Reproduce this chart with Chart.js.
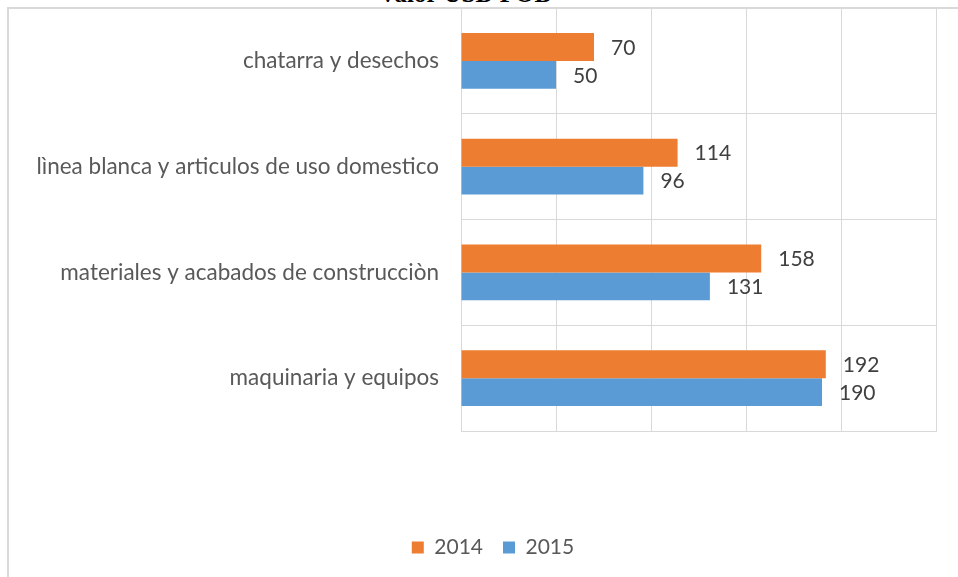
<!DOCTYPE html>
<html>
<head>
<meta charset="utf-8">
<script src="https://cdn.jsdelivr.net/npm/chart.js@4"></script>
<style>
  html, body { margin: 0; padding: 0; background: #fff; overflow: hidden; }
  #wrap { position: relative; width: 958px; height: 577px; }
  #title { position: absolute; left: 0; width: 930px; top: -20px; text-align: center;
           font: bold 25px "Liberation Serif", serif; color: #000; }
  #frame { position: absolute; left: 7px; top: 7px; width: 960px; height: 580px;
           border-top: 2px solid #d9d9d9; border-left: 2px solid #d9d9d9; }
  canvas { position: absolute; left: 0; top: 0; }
</style>
</head>
<body>
<div id="wrap">
  <div id="title">Valor USD FOB</div>
  <div id="frame"></div>
  <canvas id="chart" width="958" height="577"></canvas>
</div>
<script>
    // data
    var categories = [
        'chatarra y desechos',
        'lìnea blanca y articulos de uso domestico',
        'materiales y acabados de construcciòn',
        'maquinaria y equipos'
    ];
    var values2014 = [70, 114, 158, 192];
    var values2015 = [50, 96, 131, 190];
    var seriesNames = ['2014', '2015'];
    var xTicks = [0, 50, 100, 150, 200, 250];

    var labelFont = { family: 'Lato', size: 22.5 };

    // draws the value next to the end of every bar
    var valueLabels = {
        id: 'valueLabels',
        afterDatasetsDraw: function (chart) {
            var ctx = chart.ctx;
            ctx.save();
            ctx.font = '21px Lato';
            ctx.fillStyle = '#404040';
            ctx.textAlign = 'left';
            ctx.textBaseline = 'middle';
            chart.data.datasets.forEach(function (ds, i) {
                chart.getDatasetMeta(i).data.forEach(function (bar, j) {
                    ctx.fillText(ds.data[j], bar.x + 17, bar.y + 1);
                });
            });
            ctx.restore();
        }
    };

    // the legend in the reference sits a bit right of the canvas centre
    var legendShift = {
        id: 'legendShift',
        afterLayout: function (chart) {
            chart.legend.left += 25;
            chart.legend.right += 25;
        }
    };

    var ctx = document.getElementById('chart').getContext('2d');
    new Chart(ctx, {
        type: 'bar',
        data: {
            labels: categories,
            datasets: [{
                label: seriesNames[0],
                data: values2014,
                backgroundColor: '#ED7D31',
                categoryPercentage: 0.528,
                barPercentage: 1
            }, {
                label: seriesNames[1],
                data: values2015,
                backgroundColor: '#5B9BD5',
                categoryPercentage: 0.528,
                barPercentage: 1
            }]
        },
        options: {
            indexAxis: 'y',
            responsive: false,
            animation: false,
            layout: { padding: { left: 0, right: 22, top: 8, bottom: 9 } },
            scales: {
                x: {
                    min: xTicks[0],
                    max: xTicks[xTicks.length - 1],
                    afterBuildTicks: function (scale) {
                        scale.ticks = xTicks.map(function (v) { return { value: v }; });
                    },
                    ticks: { display: false },
                    grid: { color: '#d9d9d9', drawTicks: false },
                    border: { color: '#d9d9d9' },
                    afterFit: function (scale) { scale.height = 86; }
                },
                y: {
                    ticks: { color: '#595959', font: labelFont, padding: 22 },
                    grid: { color: '#d9d9d9', drawTicks: false },
                    border: { color: '#d9d9d9' },
                    afterFit: function (scale) {
                        scale.width = 461;
                        scale.paddingTop = 0;
                        scale.paddingBottom = 0;
                    }
                }
            },
            plugins: {
                legend: {
                    position: 'bottom',
                    labels: {
                        color: '#595959',
                        font: { family: 'Lato', size: 21 },
                        boxWidth: 12,
                        boxHeight: 12,
                        padding: 20
                    }
                },
                tooltip: { enabled: false }
            }
        },
        plugins: [valueLabels, legendShift]
    });
</script>
</body>
</html>
